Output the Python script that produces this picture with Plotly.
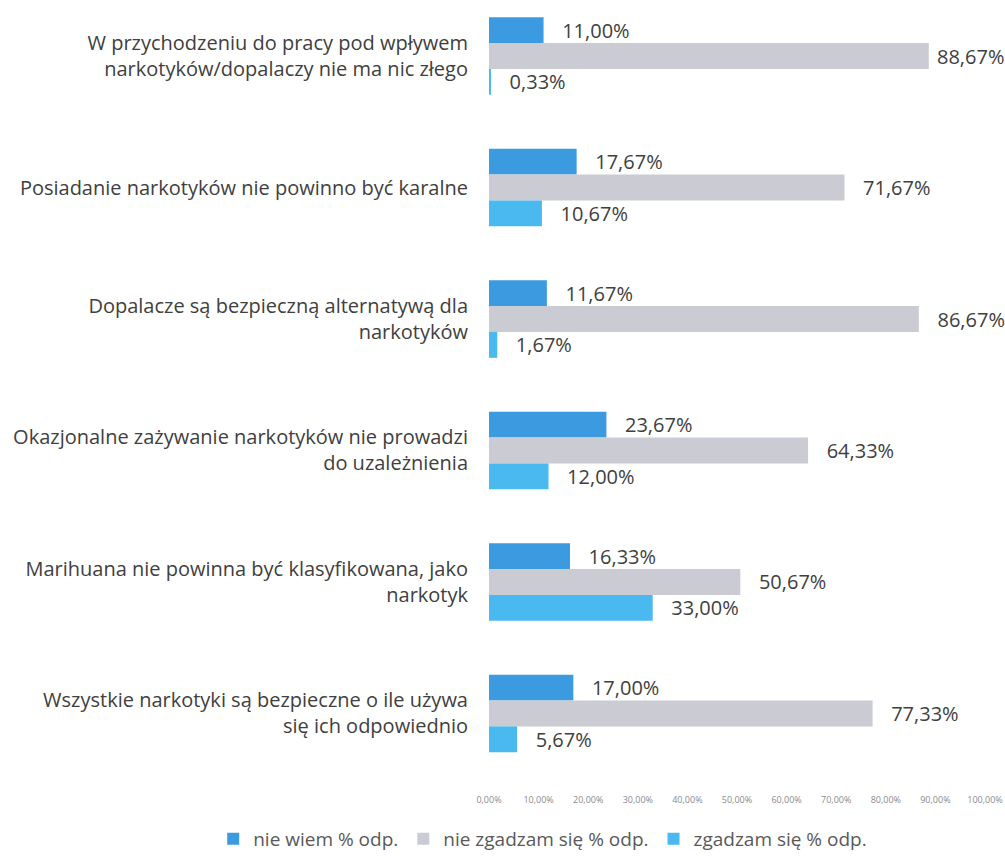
import plotly.graph_objects as go

# Survey statements (category labels, wrapped with <br>)
categories = [
    "W przychodzeniu do pracy pod wpływem<br>narkotyków/dopalaczy nie ma nic złego",
    "Posiadanie narkotyków nie powinno być karalne",
    "Dopalacze są bezpieczną alternatywą dla<br>narkotyków",
    "Okazjonalne zażywanie narkotyków nie prowadzi<br>do uzależnienia",
    "Marihuana nie powinna być klasyfikowana, jako<br>narkotyk",
    "Wszystkie narkotyki są bezpieczne o ile używa<br>się ich odpowiednio",
]

series_names = ["nie wiem % odp.", "nie zgadzam się % odp.", "zgadzam się % odp."]

nie_wiem = [11.00, 17.67, 11.67, 23.67, 16.33, 17.00]
nie_zgadzam = [88.67, 71.67, 86.67, 64.33, 50.67, 77.33]
zgadzam = [0.33, 10.67, 1.67, 12.00, 33.00, 5.67]

tick_values = [0, 10, 20, 30, 40, 50, 60, 70, 80, 90, 100]
tick_labels = ["0,00%", "10,00%", "20,00%", "30,00%", "40,00%", "50,00%",
               "60,00%", "70,00%", "80,00%", "90,00%", "100,00%"]

colors = ["#3b9ae0", "#cbcbd3", "#49b9ef"]
FONT = "Open Sans, Lato, sans-serif"
TEXT_COLOR = "#404040"
W, H = 1005, 856


def pct(v):
    # labels near the right edge get less padding so they stay inside
    pad = "\u00a0" if v > 88 else "\u00a0\u00a0\u00a0"
    return pad + f"{v:.2f}".replace(".", ",") + "%"


fig = go.Figure()
for name, vals, col in zip(series_names, [nie_wiem, nie_zgadzam, zgadzam], colors):
    fig.add_trace(go.Bar(
        y=categories,
        x=vals,
        name=name,
        orientation="h",
        marker=dict(color=col, line=dict(width=0)),
        text=[pct(v) for v in vals],
        textposition="outside",
        cliponaxis=False,
        constraintext="none",
        textfont=dict(family=FONT, size=20, color=TEXT_COLOR),
        hoverinfo="skip",
    ))

fig.update_layout(
    width=W,
    height=H,
    barmode="group",
    bargap=0.41,
    bargroupgap=0,
    paper_bgcolor="white",
    plot_bgcolor="white",
    margin=dict(l=0, r=0, t=0, b=71, autoexpand=False),
    font=dict(family=FONT, color=TEXT_COLOR),
    xaxis=dict(
        domain=[489 / W, 985 / W],
        range=[0, 100],
        tickvals=tick_values,
        ticktext=tick_labels,
        tickfont=dict(family=FONT, size=9, color="#8a8a8a"),
        showgrid=False,
        zeroline=False,
        showline=False,
        ticks="outside",
        ticklen=6,
        tickcolor="rgba(0,0,0,0)",
        automargin=False,
    ),
    yaxis=dict(
        range=[5.544, -0.426],
        tickfont=dict(family=FONT, size=20, color=TEXT_COLOR),
        showgrid=False,
        zeroline=False,
        showline=False,
        ticks="outside",
        ticklen=16,
        tickcolor="rgba(0,0,0,0)",
        automargin=False,
    ),
    legend=dict(
        orientation="h",
        x=0.54,
        xanchor="center",
        y=-(839 - 785) / 785,
        yanchor="middle",
        font=dict(family=FONT, size=19, color="#595959"),
        itemwidth=30,
        tracegroupgap=0,
        traceorder="normal",
    ),
    showlegend=True,
)

fig.write_html("out.html")
